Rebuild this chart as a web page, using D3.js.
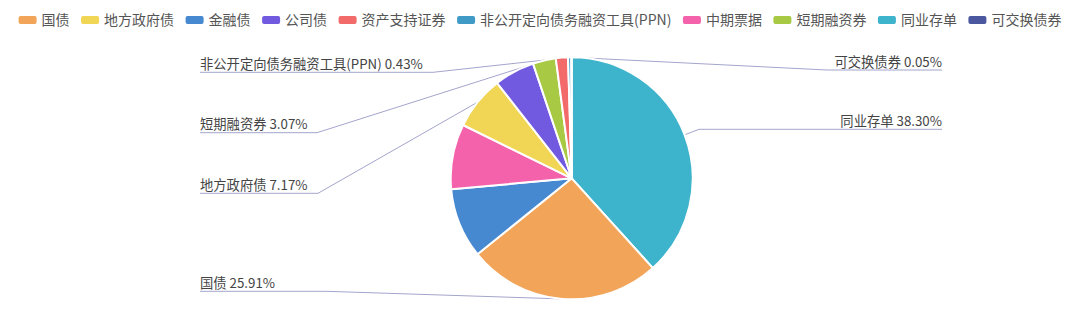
<!DOCTYPE html>
<html>
<head>
<meta charset="utf-8">
<script src="https://cdn.jsdelivr.net/npm/d3@7/dist/d3.min.js"></script>
<style>
  html, body { margin: 0; padding: 0; background: #fff; }
  svg { display: block; font-family: "Noto Sans CJK SC", "Noto Sans", sans-serif; }
</style>
</head>
<body>
<svg id="chart" width="1080" height="312"></svg>
<script>
// legend order
const legendNames = ['国债', '地方政府债', '金融债', '公司债', '资产支持证券',
  '非公开定向债务融资工具(PPN)', '中期票据', '短期融资券', '同业存单', '可交换债券'];
const legendColors = ['#f2a458', '#f1d554', '#4689d0', '#725ae0', '#f26a6a',
  '#3f9bc5', '#f362aa', '#a8c943', '#3eb3cc', '#4b58a0'];

// pie order (clockwise from 12 o'clock) and shares in %
const sliceNames = ['同业存单', '国债', '金融债', '中期票据', '地方政府债',
  '公司债', '短期融资券', '资产支持证券', '非公开定向债务融资工具(PPN)', '可交换债券'];
const sliceValues = [38.30, 25.91, 9.35, 8.70, 7.17, 5.40, 3.07, 1.62, 0.43, 0.05];

// which slices carry a label, and where the label sits
const labelled = [
  { name: '可交换债券', side: 'right', y: 70, elbowX: 827 },
  { name: '同业存单', side: 'right', y: 129.3, elbowX: 699 },
  { name: '非公开定向债务融资工具(PPN)', side: 'left', y: 72.3, elbowX: 433 },
  { name: '短期融资券', side: 'left', y: 132.7, elbowX: 317 },
  { name: '地方政府债', side: 'left', y: 193.3, elbowX: 318 },
  { name: '国债', side: 'left', y: 291.3, elbowX: 326 }
];

const svg = d3.select('#chart');
const cx = 571.7, cy = 178.3, radius = 121;
const leftEdge = 200, rightEdge = 942;
const color = d3.scaleOrdinal().domain(legendNames).range(legendColors);

//
// pie
//
const pie = d3.pie().sort(null).value((d, i) => sliceValues[i]);
const arcs = pie(sliceNames);
const arcGen = d3.arc().innerRadius(0).outerRadius(radius);

const lineG = svg.append('g');
const pieG = svg.append('g').attr('transform', `translate(${cx},${cy})`);

pieG.selectAll('path')
  .data(arcs)
  .enter()
  .append('path')
  .attr('d', arcGen)
  .attr('fill', d => color(d.data))
  .attr('stroke', '#fff')
  .attr('stroke-width', 2)
  .attr('stroke-linejoin', 'round');

//
// labels
//
const fmt = d3.format('.2f');
labelled.forEach(l => {
  const i = sliceNames.indexOf(l.name);
  const a = arcs[i];
  const mid = (a.startAngle + a.endAngle) / 2;
  const sx = cx + radius * Math.sin(mid);
  const sy = cy - radius * Math.cos(mid);
  const ex = l.side === 'left' ? leftEdge : rightEdge;

  lineG.append('polyline')
    .attr('points', [[sx, sy], [l.elbowX, l.y], [ex, l.y]].map(p => p.join(',')).join(' '))
    .attr('fill', 'none')
    .attr('stroke', '#a4a4cc')
    .attr('stroke-width', 1);

  svg.append('text')
    .attr('x', ex)
    .attr('y', l.y - 3.5)
    .attr('text-anchor', l.side === 'left' ? 'start' : 'end')
    .attr('font-size', 13.3)
    .attr('fill', '#444')
    .text(l.name + ' ' + fmt(sliceValues[i]) + '%');
});

//
// legend
//
const iconW = 18, iconH = 8, iconGap = 5, itemGap = 11.5;
const legendG = svg.append('g');
const items = legendG.selectAll('g')
  .data(legendNames)
  .enter()
  .append('g');

items.append('rect')
  .attr('width', iconW)
  .attr('height', iconH)
  .attr('y', 20 - iconH / 2)
  .attr('rx', 2)
  .attr('fill', d => color(d));

items.append('text')
  .attr('x', iconW + iconGap)
  .attr('y', 20)
  .attr('dy', '0.36em')
  .attr('font-size', 14)
  .attr('fill', '#555')
  .text(d => d);

let xPos = 0;
const widths = [];
items.each(function () {
  const w = iconW + iconGap + d3.select(this).select('text').node().getComputedTextLength();
  widths.push(w);
});
const total = d3.sum(widths) + itemGap * (widths.length - 1);
xPos = (1080 - total) / 2;
items.attr('transform', (d, i) => {
  const t = `translate(${xPos},0)`;
  xPos += widths[i] + itemGap;
  return t;
});
</script>
</body>
</html>
